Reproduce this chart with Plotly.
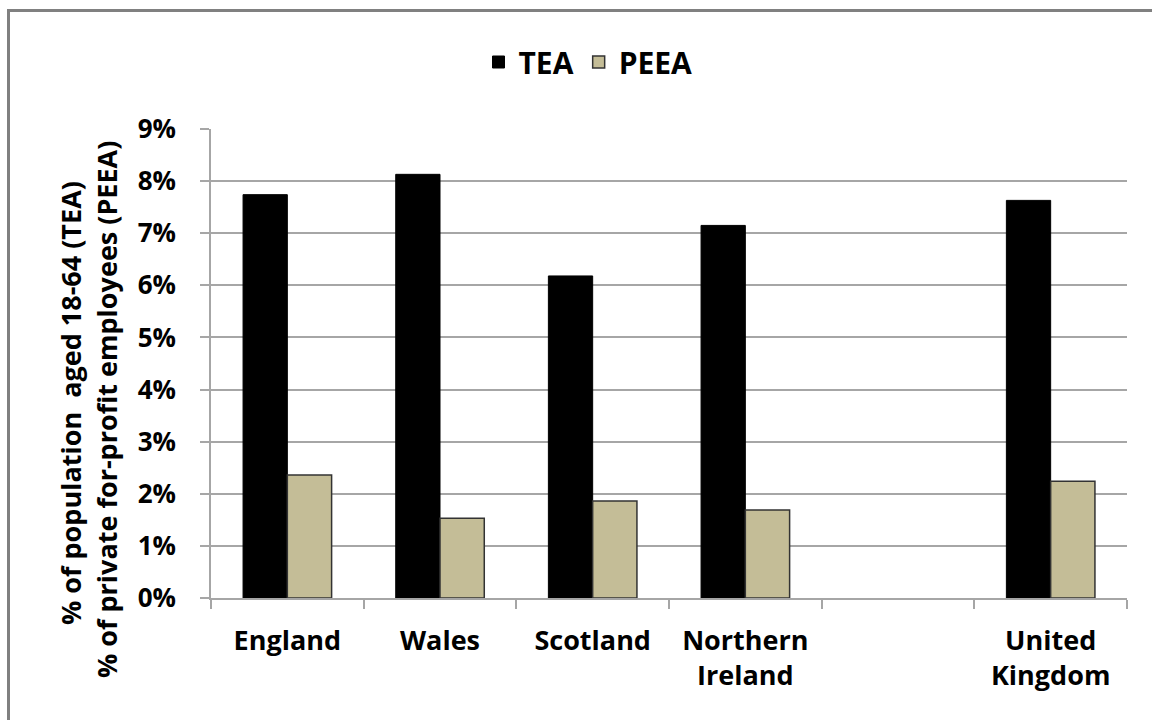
import plotly.graph_objects as go

# Entrepreneurial activity by UK nation
categories = ["England", "Wales", "Scotland", "Northern<br>Ireland", " ", "United<br>Kingdom"]
tea = [0.0774, 0.0813, 0.0618, 0.0715, None, 0.0763]
peea = [0.0236, 0.0153, 0.0186, 0.0169, None, 0.0224]
y_ticks = [0, 0.01, 0.02, 0.03, 0.04, 0.05, 0.06, 0.07, 0.08, 0.09]

W, H = 1152, 720
ML, MR, MT, MB = 211, 25, 129, 122
PW, PH = W - ML - MR, H - MT - MB


def px_x(x):
    return (x - ML) / PW


def px_y(y):
    return (H - MB - y) / PH


FONT = "Open Sans, Lato, DejaVu Sans, sans-serif"
GRID = "#a6a6a6"

fig = go.Figure()
fig.add_trace(go.Bar(
    name="TEA", x=categories, y=tea,
    marker=dict(color="#000000", line=dict(color="#000000", width=1)),
))
fig.add_trace(go.Bar(
    name="PEEA", x=categories, y=peea,
    marker=dict(color="#C4BD97", line=dict(color="#333333", width=1.5)),
))

fig.update_layout(
    width=W, height=H,
    margin=dict(l=ML, r=MR, t=MT, b=MB),
    paper_bgcolor="white", plot_bgcolor="white",
    barmode="group", bargap=0.42, bargroupgap=0,
    font=dict(family=FONT, size=26, color="#000000", weight="bold"),
    showlegend=True,
    legend=dict(
        orientation="h", x=px_x(588), y=px_y(62),
        xanchor="center", yanchor="middle",
        font=dict(family=FONT, size=30, weight="bold"),
        itemwidth=30, tracegroupgap=0,
    ),
    xaxis=dict(
        type="category", range=[-0.5, 5.5],
        tickson="boundaries", ticks="outside", ticklen=9, tickwidth=1.5, tickcolor=GRID,
        showline=True, linecolor=GRID, linewidth=1.5,
        showgrid=False,
        tickfont=dict(family=FONT, size=27, weight="bold"),
        ticklabelstandoff=18,
    ),
    yaxis=dict(
        range=[0, 0.09], tickvals=y_ticks, tickformat=".0%",
        ticks="outside", ticklen=9, tickwidth=1.5, tickcolor=GRID,
        showline=True, linecolor=GRID, linewidth=1.5,
        showgrid=True, gridcolor=GRID, gridwidth=1.5,
        zeroline=False,
        tickfont=dict(family=FONT, size=26, weight="bold"),
        ticklabelstandoff=19,
    ),
)

# Rotated two-line axis title
fig.add_annotation(
    text="% of population  aged 18-64 (TEA)", textangle=-90,
    xref="paper", yref="paper", x=px_x(70), y=px_y(403),
    xanchor="center", yanchor="middle", showarrow=False,
    font=dict(family=FONT, size=27, weight="bold"),
)
fig.add_annotation(
    text="% of private for-profit employees (PEEA)", textangle=-90,
    xref="paper", yref="paper", x=px_x(106), y=px_y(410),
    xanchor="center", yanchor="middle", showarrow=False,
    font=dict(family=FONT, size=27, weight="bold"),
)

# Chart frame
fig.add_shape(
    type="rect", xref="paper", yref="paper",
    x0=px_x(8.5), x1=px_x(W + 20), y0=px_y(H + 20), y1=px_y(10.5),
    line=dict(color="#808080", width=3), fillcolor="rgba(0,0,0,0)", layer="below",
)

fig.write_html("out.html")
